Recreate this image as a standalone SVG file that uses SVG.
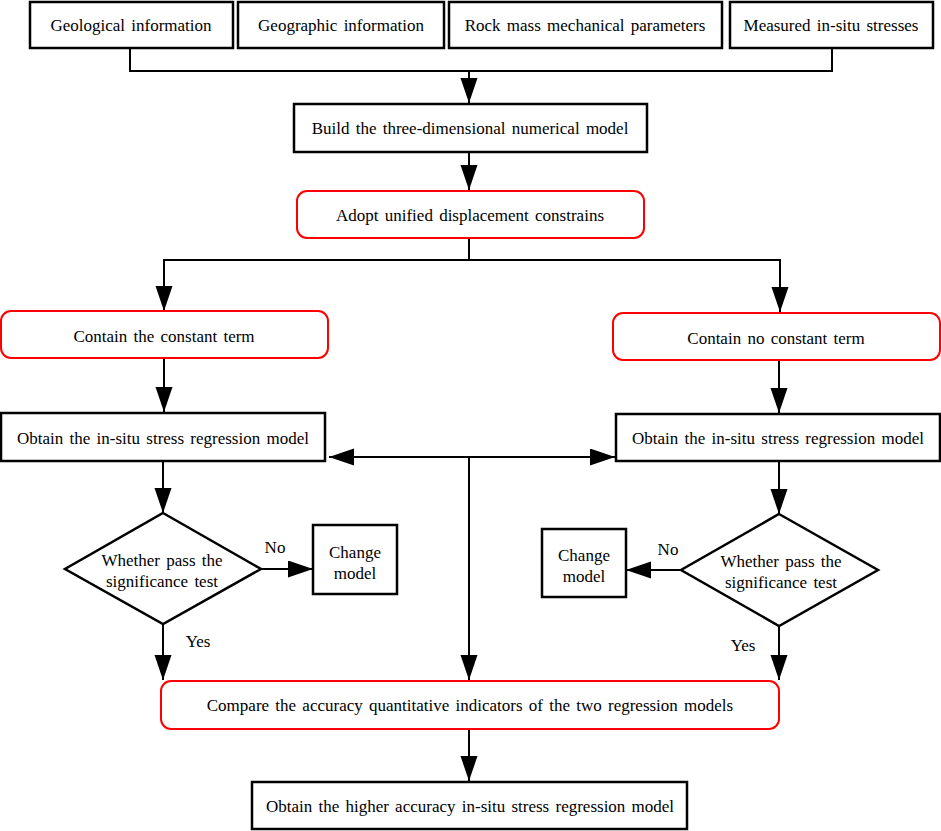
<svg xmlns="http://www.w3.org/2000/svg" width="941" height="831" viewBox="0 0 941 831">
<style>
.box{fill:#fff;stroke:#000;stroke-width:2.5}
.red{fill:#fff;stroke:#ff0000;stroke-width:2}
.dia{fill:#fff;stroke:#000;stroke-width:2.5}
.ln{fill:none;stroke:#000;stroke-width:2}
.arr{fill:none;stroke:#000;stroke-width:2;marker-end:url(#ah)}
text{font-family:"Liberation Serif","Times New Roman",serif;font-size:17px;fill:#000;text-anchor:middle;dominant-baseline:central;word-spacing:2px}
</style>
<defs>
<marker id="ah" markerUnits="userSpaceOnUse" markerWidth="26" markerHeight="18" refX="25" refY="8.5" orient="auto-start-reverse">
<path d="M0,0 L25,8.5 L0,17 Z" fill="#000"/>
</marker>
</defs>
<g id="connectors">
<path class="ln" d="M130,48 V71 H832 V48"/>
<path class="arr" d="M469,71 V103"/>
<path class="arr" d="M469,152 V190"/>
<path class="ln" d="M469,238 V260"/>
<path class="arr" d="M469,260 H164 V311"/>
<path class="arr" d="M469,260 H780 V312"/>
<path class="arr" d="M164,358 V412"/>
<path class="arr" d="M779,360 V413"/>
<path class="arr" style="marker-start:url(#ah)" d="M329,457 H615"/>
<path class="arr" d="M469,457 V680"/>
<path class="arr" d="M163,461 V513"/>
<path class="arr" d="M779,461 V514"/>
<path class="arr" d="M261,569 H313"/>
<path class="arr" d="M681,570 H626"/>
<path class="arr" d="M163,624 V680"/>
<path class="arr" d="M779,626 V680"/>
<path class="arr" d="M469,729 V781"/>
<text x="275" y="547">No</text>
<text x="668" y="549">No</text>
<text x="198" y="641">Yes</text>
<text x="743" y="645">Yes</text>
</g>
<g id="n1"><rect class="box" x="30" y="2" width="203" height="46"/><text x="131" y="25">Geological information</text></g>
<g id="n2"><rect class="box" x="238" y="2" width="206" height="46"/><text x="341" y="25">Geographic information</text></g>
<g id="n3"><rect class="box" x="449" y="2" width="273" height="46"/><text x="585" y="25">Rock mass mechanical parameters</text></g>
<g id="n4"><rect class="box" x="730" y="2" width="203" height="46"/><text x="831" y="25">Measured in-situ stresses</text></g>
<g id="n5"><rect class="box" x="294" y="104" width="353" height="48"/><text x="470" y="128">Build the three-dimensional numerical model</text></g>
<g id="n6"><rect class="red" x="297" y="191" width="347" height="47" rx="10"/><text x="470" y="215">Adopt unified displacement constrains</text></g>
<g id="n7"><rect class="red" x="1" y="311" width="327" height="47" rx="10"/><text x="164" y="336">Contain the constant term</text></g>
<g id="n8"><rect class="red" x="613" y="313" width="327" height="47" rx="10"/><text x="776" y="338">Contain no constant term</text></g>
<g id="n9"><rect class="box" x="1" y="413" width="324" height="48"/><text x="163" y="438">Obtain the in-situ stress regression model</text></g>
<g id="n10"><rect class="box" x="616" y="414" width="324" height="47"/><text x="778" y="438">Obtain the in-situ stress regression model</text></g>
<g id="n11"><polygon class="dia" points="163,513 261,569 163,624 65,569"/><text x="162" y="560">Whether pass the</text><text x="162" y="581">significance  test</text></g>
<g id="n12"><rect class="box" x="313" y="525" width="84" height="69"/><text x="355" y="552">Change</text><text x="355" y="573">model</text></g>
<g id="n13"><polygon class="dia" points="779,514 878,570 779,626 681,570"/><text x="781" y="561">Whether pass the</text><text x="781" y="582">significance  test</text></g>
<g id="n14"><rect class="box" x="542" y="529" width="84" height="68"/><text x="584" y="555">Change</text><text x="584" y="576">model</text></g>
<g id="n15"><rect class="red" x="161" y="681" width="618" height="48" rx="10"/><text x="470" y="705">Compare the accuracy quantitative indicators of the two regression models</text></g>
<g id="n16"><rect class="box" x="252" y="782" width="435" height="47"/><text x="470" y="806">Obtain the higher accuracy in-situ stress regression model</text></g>
</svg>
